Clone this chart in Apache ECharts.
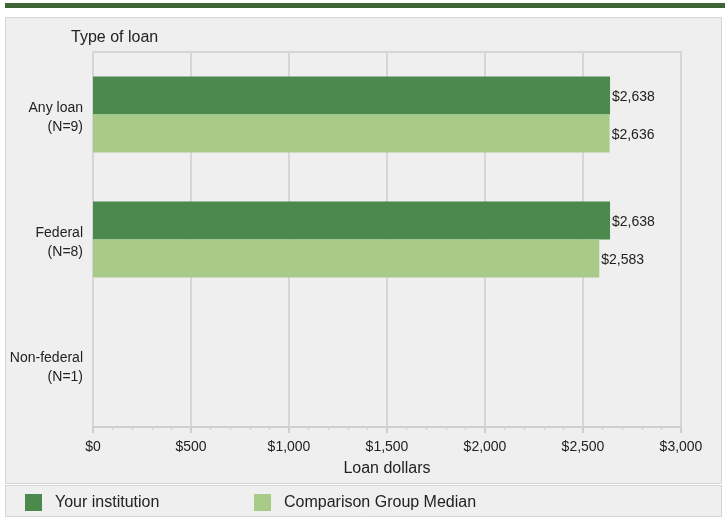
<!DOCTYPE html>
<html>
<head>
<meta charset="utf-8">
<script src="https://cdn.jsdelivr.net/npm/echarts@6/dist/echarts.min.js"></script>
<style>html,body{margin:0;padding:0;background:#fff;}#c{width:725px;height:518px;}</style>
</head>
<body>
<div id="c"></div>
<script>
const categories = ['Any loan\n(N=9)', 'Federal\n(N=8)', 'Non-federal\n(N=1)'];
const yourInstitution = [2638, 2638, null];
const comparisonMedian = [2636, 2583, null];
const seriesNames = ['Your institution', 'Comparison Group Median'];
const xTicks = [0, 500, 1000, 1500, 2000, 2500, 3000];

const FONT = 'Liberation Sans, Arial, sans-serif';
const chart = echarts.init(document.getElementById('c'), null, {renderer: 'canvas'});
const fmt = v => '$' + Number(v).toLocaleString('en-US');

chart.setOption({
  animation: false,
  backgroundColor: '#ffffff',
  textStyle: {fontFamily: FONT},
  graphic: [
    {type: 'rect', z: -10, shape: {x: 5, y: 3, width: 720, height: 5}, style: {fill: '#3e6535'}},
    {type: 'rect', z: -10, shape: {x: 5.5, y: 17.5, width: 716, height: 466}, style: {fill: '#efefef', stroke: '#d4d4d4', lineWidth: 1}},
    {type: 'rect', z: -10, shape: {x: 5.5, y: 485.5, width: 716, height: 31}, style: {fill: '#efefef', stroke: '#d4d4d4', lineWidth: 1}},
    {type: 'text', left: 71, top: 30, style: {text: 'Type of loan', font: '16px ' + FONT, fill: '#222'}}
  ],
  legend: [
    {data: [seriesNames[0]], left: 20, top: 489, icon: 'rect', itemWidth: 17, itemHeight: 17,
     textStyle: {fontSize: 16, color: '#222', padding: [0, 0, 0, 8]}, selectedMode: false},
    {data: [seriesNames[1]], left: 249, top: 489, icon: 'rect', itemWidth: 17, itemHeight: 17,
     textStyle: {fontSize: 16, color: '#222', padding: [0, 0, 0, 8]}, selectedMode: false}
  ],
  grid: {left: 93, right: 44, top: 52, bottom: 91, containLabel: false,
         show: true, borderColor: '#d6d6d6', borderWidth: 2, backgroundColor: 'transparent'},
  xAxis: {
    type: 'value', min: 0, max: 3000, interval: 500,
    name: 'Loan dollars', nameLocation: 'middle', nameGap: 34,
    nameTextStyle: {fontSize: 16, color: '#222'},
    axisLine: {show: true, lineStyle: {color: '#cfcfcf', width: 2}},
    axisTick: {show: true, length: 6, lineStyle: {color: '#cfcfcf', width: 2}},
    minorTick: {show: true, splitNumber: 5, length: 3, lineStyle: {color: '#cfcfcf', width: 1}},
    splitLine: {show: true, lineStyle: {color: '#d6d6d6', width: 2}},
    axisLabel: {fontSize: 14, color: '#222', margin: 13, formatter: v => xTicks.includes(v) ? fmt(v) : ''}
  },
  yAxis: {
    type: 'category', data: categories, inverse: true,
    axisLine: {show: true, lineStyle: {color: '#d6d6d6', width: 2}},
    axisTick: {show: false},
    splitLine: {show: false},
    axisLabel: {
      color: '#222', align: 'right', margin: 10,
      formatter: v => '{s| }\n' + v.split('\n').map(l => '{t|' + l + '}').join('\n'),
      rich: {
        s: {fontSize: 6, lineHeight: 6},
        t: {fontSize: 14, lineHeight: 19, color: '#222', align: 'right'}
      }
    }
  },
  series: [
    {name: seriesNames[0], type: 'bar', data: yourInstitution, barWidth: 38, barGap: '0%',
     itemStyle: {color: '#4c894c'},
     label: {show: true, position: 'right', distance: 2, fontSize: 14, color: '#222', offset: [0, 2], formatter: p => fmt(p.value)}},
    {name: seriesNames[1], type: 'bar', data: comparisonMedian, barWidth: 38, barGap: '0%',
     itemStyle: {color: '#a9cb89'},
     label: {show: true, position: 'right', distance: 2, fontSize: 14, color: '#222', offset: [0, 2], formatter: p => fmt(p.value)}}
  ]
});
</script>
</body>
</html>
